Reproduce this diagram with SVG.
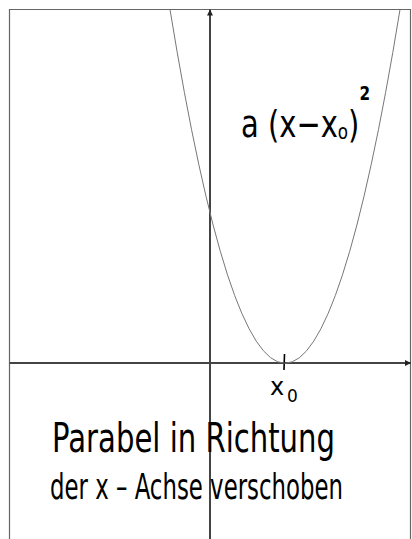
<svg xmlns="http://www.w3.org/2000/svg" width="412" height="539" viewBox="0 0 412 539">
<style>
.frame{fill:none;stroke:#666;stroke-width:1.2}
.axis{stroke:#444;stroke-width:2;fill:none}
.curve{fill:none;stroke:#777;stroke-width:1}
.hw{font-family:"DejaVu Sans","Liberation Sans",sans-serif;fill:#000}
</style>
<defs>
<marker id="ah" viewBox="0 0 10 10" refX="10" refY="5" markerWidth="3" markerHeight="3" orient="auto" markerUnits="strokeWidth">
<path d="M0,0 L10,5 L0,10 Z" fill="#222"/>
</marker>
</defs>
<rect width="412" height="539" fill="#fff"/>
<g id="frame"><path class="frame" d="M9.5,539 V9.5 H410.5 V539"/></g>
<g id="connectors">
<line class="axis" x1="9.5" y1="363" x2="411" y2="363" marker-end="url(#ah)"/>
<line class="axis" x1="210" y1="539" x2="210" y2="9.5" marker-end="url(#ah)"/>
<line x1="284.5" y1="354" x2="284" y2="370" stroke="#000" stroke-width="1.6"/>
</g>
<g id="parabola"><path class="curve" d="M170,9.5 Q285,717 400,9.5"/></g>
<g id="formula">
<text class="hw" x="241" y="137" font-size="38" textLength="129" lengthAdjust="spacingAndGlyphs">a (x−x<tspan font-size="22" dy="2">o</tspan><tspan dy="-2">)</tspan><tspan font-size="20" font-weight="bold" dy="-37">2</tspan></text>
</g>
<g id="x0label">
<text class="hw" x="270" y="395" font-size="24">x</text>
<text class="hw" x="287" y="402" font-size="17">0</text>
</g>
<g id="caption">
<text class="hw" x="52" y="452" font-size="40" textLength="283" lengthAdjust="spacingAndGlyphs">Parabel in Richtung</text>
<text class="hw" x="50" y="499" font-size="35" textLength="293" lengthAdjust="spacingAndGlyphs">der x – Achse verschoben</text>
</g>
</svg>
